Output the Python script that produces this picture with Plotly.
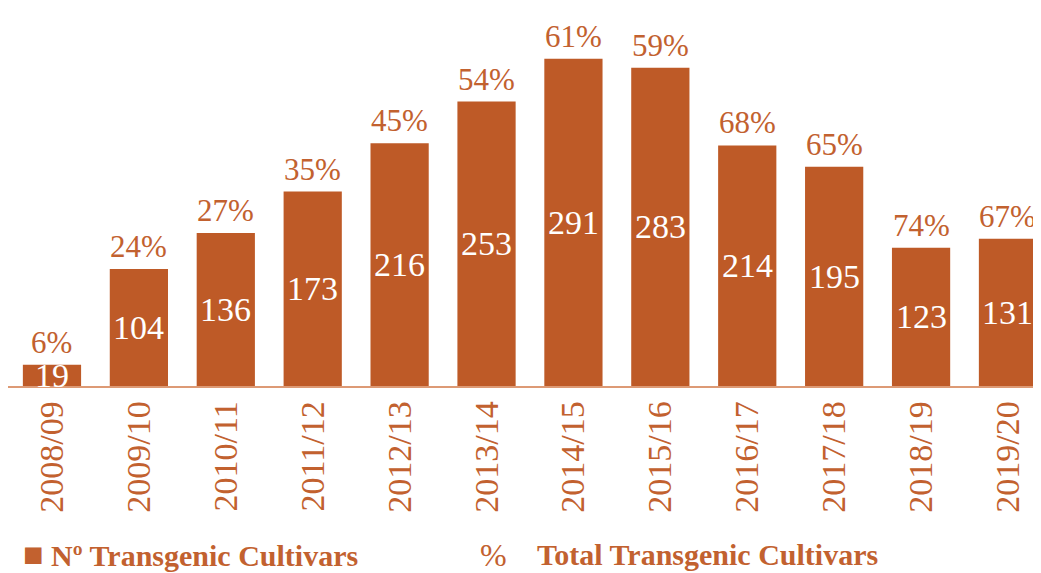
import plotly.graph_objects as go

seasons = ["2008/09", "2009/10", "2010/11", "2011/12", "2012/13", "2013/14",
           "2014/15", "2015/16", "2016/17", "2017/18", "2018/19", "2019/20"]
cultivars = [19, 104, 136, 173, 216, 253, 291, 283, 214, 195, 123, 131]
percent = [6, 24, 27, 35, 45, 54, 61, 59, 68, 65, 74, 67]

BAR = "#BE5A27"
TXT = "#C2612F"
FONT = "Liberation Serif"

fig = go.Figure(go.Bar(
    x=seasons, y=cultivars, marker=dict(color=BAR, line=dict(width=0)),
    width=0.67, showlegend=False, hoverinfo="skip",
))

ann = []
for s, v, p in zip(seasons, cultivars, percent):
    ann.append(dict(x=s, y=v / 2, text=str(v), showarrow=False, xref="x", yref="y",
                    font=dict(family=FONT, size=34, color="white"), yanchor="middle"))
    ann.append(dict(x=s, y=v, text=f"{p}%", showarrow=False, xref="x", yref="y",
                    font=dict(family=FONT, size=31, color=TXT), yanchor="bottom", yshift=3))

ann.append(dict(xref="paper", yref="paper", x=0.013, y=-0.455, xanchor="left", yanchor="middle",
                text="<span style='font-size:34px'>■</span> Nº Transgenic Cultivars", showarrow=False,
                font=dict(family=FONT, size=30, color=TXT, weight="bold")))
ann.append(dict(xref="paper", yref="paper", x=0.455, y=-0.455, xanchor="left", yanchor="middle",
                text="%", showarrow=False,
                font=dict(family=FONT, size=32, color=TXT)))
ann.append(dict(xref="paper", yref="paper", x=0.51, y=-0.455, xanchor="left", yanchor="middle",
                text="Total Transgenic Cultivars", showarrow=False,
                font=dict(family=FONT, size=30, color=TXT, weight="bold")))

fig.update_layout(
    width=1033, height=565,
    margin=dict(l=0, r=0, t=7, b=187),
    paper_bgcolor="white", plot_bgcolor="white",
    annotations=ann,
    xaxis=dict(range=[-0.506, 11.38], tickangle=-90, showgrid=False, showline=True,
               linecolor="#DD9A75", linewidth=1.5, ticks="", ticklen=0, automargin=False,
               tickfont=dict(family=FONT, size=34, color=TXT), fixedrange=True),
    yaxis=dict(range=[0, 330], visible=False, showgrid=False, zeroline=False,
               automargin=False, fixedrange=True),
)

fig.write_html("out.html")
